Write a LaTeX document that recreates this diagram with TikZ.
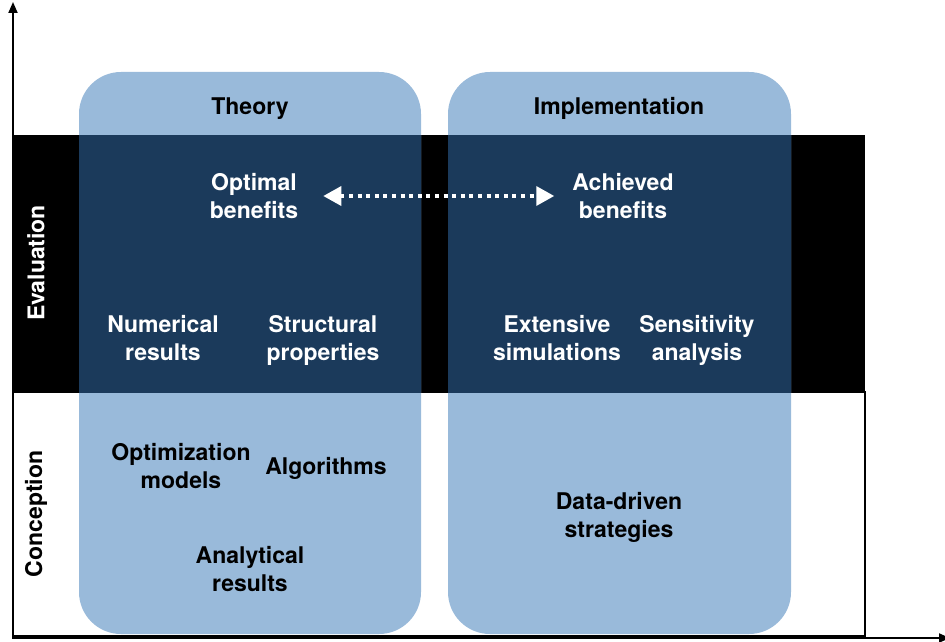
\documentclass[tikz,border=0pt]{standalone}
\usepackage{fontspec}
\setmainfont{TeX Gyre Heros}
\usetikzlibrary{arrows.meta}
\definecolor{boxlight}{HTML}{99BADA}
\definecolor{boxdark}{HTML}{1B3A5B}
\tikzset{
  lbl/.style={font=\bfseries\fontsize{23}{28}\selectfont, align=center, inner sep=0pt},
  wlbl/.style={lbl, text=white},
  klbl/.style={lbl, text=black},
  axis/.style={line width=2pt, -{Triangle[length=11pt,width=9pt]}},
  pillar/.style={rounded corners=42pt},
}
\begin{document}
\begin{tikzpicture}[x=1pt,y=-1pt]
\useasboundingbox (0,0) rectangle (945,642);
% bottom white region border
\draw[line width=1.5pt] (13,392) rectangle (865,636);
% black band
\fill[black] (13,135) rectangle (865,392);
% pillars
\fill[boxlight, pillar] (79,72) rectangle (421,634);
\fill[boxlight, pillar] (448,72) rectangle (791,634);
\begin{scope}
  \clip (13,135) rectangle (865,392);
  \fill[boxdark, pillar] (79,72) rectangle (421,634);
  \fill[boxdark, pillar] (448,72) rectangle (791,634);
\end{scope}
% axes
\draw[axis] (13,638) -- (13,2);
\draw[axis] (12,638) -- (950,638);
% labels
\node[klbl] (theory) at (250,109) {Theory};
\node[klbl] (impl) at (619,108) {Implementation};
\node[wlbl] (opt) at (254,196) {Optimal\\benefits};
\node[wlbl] (ach) at (623,196) {Achieved\\benefits};
\node[wlbl] (num) at (163,338) {Numerical\\results};
\node[wlbl] (struct) at (323,340) {Structural\\properties};
\node[wlbl] (ext) at (557,338) {Extensive\\simulations};
\node[wlbl] (sens) at (697,340) {Sensitivity\\analysis};
\node[klbl] (optmod) at (181,466) {Optimization\\models};
\node[klbl] (algo) at (326,468) {Algorithms};
\node[klbl] (anal) at (250,569) {Analytical\\results};
\node[klbl] (data) at (619,517) {Data-driven\\strategies};
\node[wlbl, rotate=90] (eval) at (36,263) {Evaluation};
\node[klbl, rotate=90] (conc) at (36,514) {Conception};
% arrow
\draw[white, line width=3.5pt, dash pattern=on 4pt off 4.6pt,
  {Triangle[length=18pt,width=19pt]}-{Triangle[length=18pt,width=19pt]}]
  ([xshift=25pt]opt.east) -- ([xshift=-18pt]ach.west);
\end{tikzpicture}
\end{document}
